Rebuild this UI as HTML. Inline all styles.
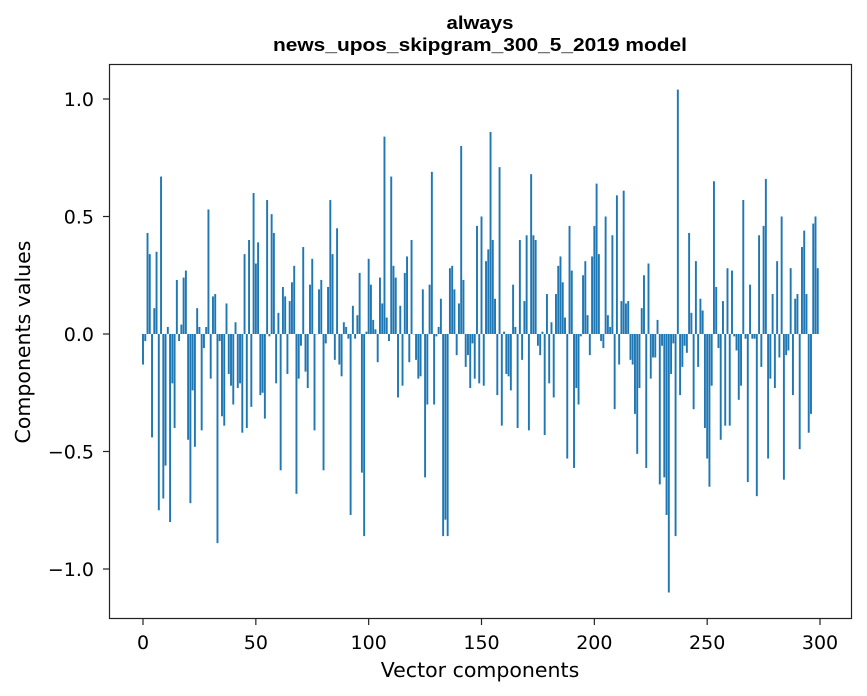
<!DOCTYPE html>
<html><head><meta charset="utf-8"><style>
body{margin:0;background:#fff;}
svg{display:block;font-family:"DejaVu Sans","Liberation Sans",sans-serif;}
</style></head><body>
<svg id="chart" width="867" height="696" viewBox="0 0 867 696" xmlns="http://www.w3.org/2000/svg">
<rect width="867" height="696" fill="#fff"/>
<text x="480" y="29" text-anchor="middle" font-size="18" font-weight="bold" font-family="Liberation Sans, sans-serif" textLength="67" lengthAdjust="spacingAndGlyphs">always</text>
<text x="480" y="51" text-anchor="middle" font-size="18" font-weight="bold" font-family="Liberation Sans, sans-serif" textLength="414" lengthAdjust="spacingAndGlyphs">news_upos_skipgram_300_5_2019 model</text>
<g id="bars"></g>
<g id="axes"></g>
<rect x="109.5" y="64.5" width="742" height="554" fill="none" stroke="#222" stroke-width="1.2"/>
<text x="480" y="677" text-anchor="middle" font-size="20.5">Vector components</text>
<text transform="translate(30,342) rotate(-90)" text-anchor="middle" font-size="20.5">Components values</text>
</svg>
<script>
const values = [
-0.13,-0.03,0.43,0.34,-0.44,0.11,0.35,-0.75,0.67,-0.70,
-0.56,0.03,-0.80,-0.21,-0.40,0.23,-0.03,0.04,0.24,0.27,
-0.45,-0.72,-0.24,-0.48,0.11,0.03,-0.41,-0.06,0.03,0.53,
-0.19,0.16,0.17,-0.89,-0.03,-0.35,-0.39,0.13,-0.17,-0.22,
-0.30,0.05,-0.23,-0.21,-0.42,0.34,-0.40,0.40,-0.31,0.60,
0.30,0.39,-0.26,-0.25,-0.36,0.57,-0.01,0.51,0.43,-0.21,
0.09,-0.58,0.20,0.16,-0.17,0.14,0.22,0.29,-0.68,-0.19,
-0.05,0.37,-0.16,-0.23,0.21,0.32,-0.41,0.00,0.19,0.23,
-0.58,-0.04,0.20,0.57,0.34,-0.11,0.45,-0.13,-0.18,0.05,
0.03,-0.02,-0.77,0.12,-0.02,0.08,0.26,-0.59,-0.86,0.01,
0.32,0.21,0.06,0.02,-0.12,0.24,0.13,0.84,0.07,-0.03,
0.67,0.29,0.24,-0.27,0.12,-0.22,0.26,0.33,-0.12,0.40,
0.00,-0.11,-0.19,-0.18,0.19,-0.61,-0.30,0.21,0.69,-0.30,
-0.01,0.03,0.15,-0.86,-0.79,-0.86,0.28,0.29,0.19,-0.09,
0.13,0.80,0.23,-0.14,-0.09,-0.23,-0.04,-0.19,0.46,-0.21,
0.50,-0.22,0.31,0.36,0.86,0.40,0.15,-0.26,0.71,-0.39,
0.01,-0.17,-0.18,-0.24,0.21,0.03,-0.40,0.40,-0.11,0.14,
0.42,-0.41,0.68,0.42,0.40,-0.05,-0.09,0.01,-0.43,0.17,
-0.21,0.05,-0.27,0.17,0.29,0.33,0.22,0.07,-0.53,0.46,
0.27,-0.57,-0.23,-0.30,-0.01,0.25,0.31,0.08,-0.09,0.33,
0.46,0.64,0.34,-0.03,-0.06,0.50,0.08,0.03,0.42,-0.32,
0.59,-0.13,0.14,0.61,0.13,0.14,-0.11,-0.13,-0.34,-0.51,
-0.23,0.11,0.25,-0.57,0.30,-0.19,-0.10,-0.10,0.06,-0.64,
-0.05,-0.61,-0.77,-1.10,-0.17,-0.04,-0.86,1.04,-0.26,-0.14,
-0.05,-0.08,0.43,0.09,-0.32,0.31,-0.14,0.15,0.10,-0.40,
-0.53,-0.65,-0.22,0.65,0.20,-0.06,-0.45,0.14,-0.39,0.28,
-0.39,0.27,-0.01,-0.07,-0.28,-0.22,0.57,-0.02,-0.63,0.21,
-0.02,-0.02,-0.69,0.42,-0.14,0.46,0.66,-0.53,-0.19,0.17,
-0.23,0.31,-0.10,0.50,-0.62,-0.09,-0.07,0.28,-0.26,0.15,
0.17,-0.49,0.37,0.44,0.17,-0.42,-0.34,0.47,0.50,0.28
];
const xTicks = [0,50,100,150,200,250,300];
const yTicks = [-1.0,-0.5,0.0,0.5,1.0];
const yTickLabels = ["\u22121.0","\u22120.5","0.0","0.5","1.0"];

const NS = "http://www.w3.org/2000/svg";
const xScale = v => 143 + v * 2.2567;
const yScale = v => 334 - v * 235;
const barW = 0.85 * 2.2567;

const barsG = document.getElementById('bars');
values.forEach((v, i) => {
  const r = document.createElementNS(NS, 'rect');
  const y0 = yScale(0), y1 = yScale(v);
  r.setAttribute('x', xScale(i) - barW / 2);
  r.setAttribute('y', Math.min(y0, y1));
  r.setAttribute('width', barW);
  r.setAttribute('height', Math.max(Math.abs(y1 - y0), 0.3));
  r.setAttribute('fill', '#1f77b4');
  
  
  barsG.appendChild(r);
});

const axesG = document.getElementById('axes');
xTicks.forEach(t => {
  const x = xScale(t);
  const l = document.createElementNS(NS, 'line');
  l.setAttribute('x1', x); l.setAttribute('x2', x);
  l.setAttribute('y1', 619); l.setAttribute('y2', 625);
  l.setAttribute('stroke', '#222');
  l.setAttribute('stroke-width', '1.2');
  
  
  axesG.appendChild(l);
  const tx = document.createElementNS(NS, 'text');
  tx.setAttribute('x', x); tx.setAttribute('y', 649);
  tx.setAttribute('text-anchor', 'middle');
  tx.setAttribute('font-size', '19');
  tx.textContent = String(t);
  
  
  axesG.appendChild(tx);
});
yTicks.forEach((t, k) => {
  const y = yScale(t);
  const l = document.createElementNS(NS, 'line');
  l.setAttribute('x1', 103); l.setAttribute('x2', 109);
  l.setAttribute('y1', y); l.setAttribute('y2', y);
  l.setAttribute('stroke', '#222');
  l.setAttribute('stroke-width', '1.2');
  
  
  axesG.appendChild(l);
  const tx = document.createElementNS(NS, 'text');
  tx.setAttribute('x', 94); tx.setAttribute('y', y + 7);
  tx.setAttribute('text-anchor', 'end');
  tx.setAttribute('font-size', '19');
  tx.textContent = yTickLabels[k];
  
  
  axesG.appendChild(tx);
});
</script>
</body></html>
